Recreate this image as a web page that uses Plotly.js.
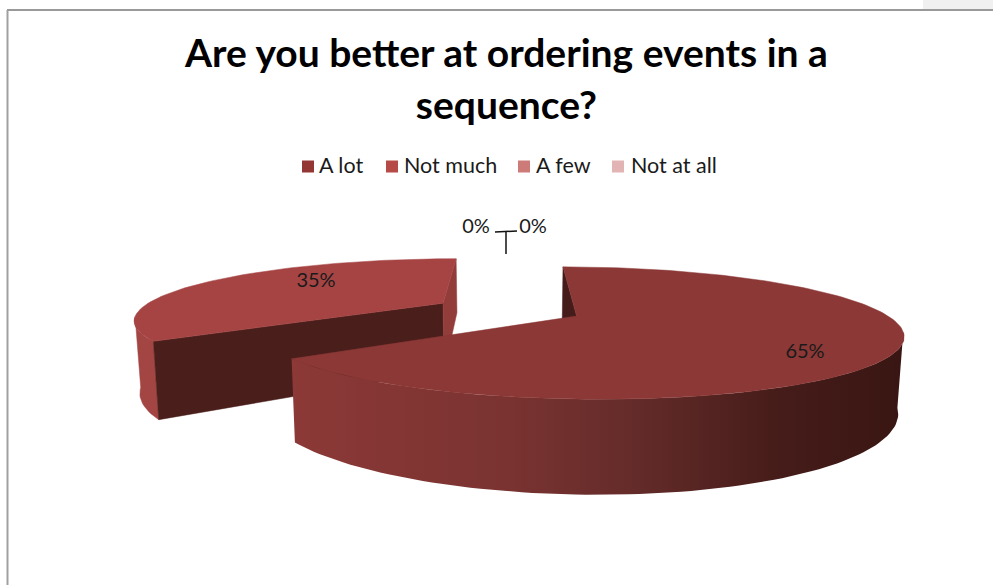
<!DOCTYPE html>
<html><head><meta charset="utf-8">
<script src="https://cdn.plot.ly/plotly-3.0.1.min.js"></script>
<style>html,body{margin:0;padding:0;background:#fff;overflow:hidden}#c{width:993px;height:585px}</style>
</head><body><div id="c"></div>
<script>
// data
const categories = ['A lot', 'Not much', 'A few', 'Not at all'];
const shares = [65, 35, 0, 0];
const swatchColors = ['#943634', '#B64A47', '#CC7B78', '#E2B5B4'];
const chartTitle = 'Are you better at ordering events in a<br>sequence?';

// 3D pie camera (styling constants, pixels)
const cam = {x0: 510, y0: 309.5, a: 303, k: 58.5, p: 0.25, h: 69, e: 0.015, explode: 0.24};
function project(X, V, Z) {
  const d = 1 - cam.p * V;
  return [cam.x0 + X * (1 - cam.e * Z) / d, cam.y0 + (cam.k * V + cam.h * Z) / d];
}
const total = shares.reduce((s, v) => s + v, 0);
const rad = d => d * Math.PI / 180;
function slice(startDeg, endDeg, nudge) {
  const mid = rad((startDeg + endDeg) / 2);
  const cx = cam.explode * Math.sin(mid), cv = -cam.explode * Math.cos(mid);
  const pt = (deg, r, z) => project(cam.a * (cx + r * Math.sin(rad(deg))) + nudge, cv - r * Math.cos(rad(deg)), z);
  const arc = (a, b, z) => {
    const out = [], n = Math.max(8, Math.ceil(Math.abs(b - a) / 1.5));
    for (let i = 0; i <= n; i++) out.push(pt(a + (b - a) * i / n, 1, z));
    return out;
  };
  return {pt, arc};
}
function poly(points, color, extra) {
  return Object.assign({
    type: 'scatter', mode: 'lines', x: points.map(p => p[0]).concat(points[0][0]),
    y: points.map(p => p[1]).concat(points[0][1]), fill: 'toself', fillcolor: color,
    line: {width: 0.5, color: color}, showlegend: false, hoverinfo: 'skip'
  }, extra || {});
}

const bigEnd = shares[0] / total * 360;
const big = slice(0, bigEnd, 0), small = slice(bigEnd, 360, -4);
const traces = [];
// small slice: walls then top
traces.push(poly(small.arc(bigEnd, 257, 1).concat(small.arc(257, bigEnd, 0)), '#A34543'));
traces.push(poly([small.pt(bigEnd, 1, 0), small.pt(bigEnd, 0, 0), small.pt(bigEnd, 0, 1), small.pt(bigEnd, 1, 1)], '#4A1E1B'));
traces.push(poly([small.pt(360, 1, 0), small.pt(360, 1, 1), small.pt(360, 0, 1), small.pt(360, 0, 0)], '#933D3A'));
traces.push(poly([small.pt(0, 0, 0)].concat(small.arc(bigEnd, 360, 0)), '#A64444'));
// big slice: inner wall, outer wall, top
traces.push(poly([big.pt(0, 1, 0), big.pt(0, 0, 0), big.pt(0, 0, 1), big.pt(0, 1, 1)], '#451C19'));
traces.push(poly(big.arc(bigEnd, 104, 0).concat(big.arc(104, bigEnd, 1)), '#6a2c2a', {
  line: {width: 0},
  fillgradient: {type: 'horizontal', colorscale: [[0, '#8C3937'], [0.35, '#7A3331'], [0.55, '#652C2A'], [0.8, '#451C19'], [1, '#391613']]}
}));
traces.push(poly([big.pt(0, 0, 0)].concat(big.arc(0, bigEnd, 0)), '#8B3836'));

// zero-slice leader lines
traces.push({type: 'scatter', mode: 'lines', x: [495, 517, null, 506, 506], y: [232, 231, null, 232, 254],
  line: {color: '#111', width: 1.5}, showlegend: false, hoverinfo: 'skip'});
// data labels
const labelX = [805, 316, 476, 533], labelY = [353, 282, 228, 228];
traces.push({type: 'scatter', mode: 'text', x: labelX, y: labelY, text: shares.map(v => v + '%'),
  textposition: 'middle center', textfont: {family: 'Lato, sans-serif', size: 20, color: '#1a1a1a'},
  showlegend: false, hoverinfo: 'skip'});
// legend entries, drawn as marker + text so spacing follows the reference
const legendX = [308, 392, 524, 618], legendTextX = [319, 404, 536, 631];
categories.forEach((name, i) => {
  traces.push({type: 'scatter', mode: 'markers', x: [legendX[i]], y: [166.5], name,
    marker: {symbol: 'square', size: 12, color: swatchColors[i]}, showlegend: false, hoverinfo: 'skip'});
  traces.push({type: 'scatter', mode: 'text', x: [legendTextX[i]], y: [168], name,
    text: [name], textposition: 'middle right', textfont: {family: 'Lato, sans-serif', size: 21.5, color: '#1a1a1a'},
    showlegend: false, hoverinfo: 'skip'});
});

const layout = {
  width: 993, height: 585, margin: {l: 0, r: 0, t: 0, b: 0},
  paper_bgcolor: '#fff', plot_bgcolor: '#fff',
  xaxis: {range: [0, 993], visible: false, fixedrange: true},
  yaxis: {range: [585, 0], visible: false, fixedrange: true},
  title: {text: '<span style="font-size:39px">' + chartTitle.replace('<br>', '</span><br><span style="font-size:39px">') + '</span>',
    x: 0.51, xanchor: 'center', y: 0.885, yanchor: 'top',
    font: {family: 'Lato, sans-serif', size: 40, color: '#000', weight: 700}},
  showlegend: false,
  shapes: [
    {type: 'rect', xref: 'x', yref: 'y', x0: 923, x1: 993, y0: 0, y1: 9, fillcolor: '#F0F0F0', line: {width: 0}, layer: 'below'},
    {type: 'line', xref: 'x', yref: 'y', x0: 7, x1: 993, y0: 10, y1: 10, line: {color: '#999', width: 2}, layer: 'below'},
    {type: 'line', xref: 'x', yref: 'y', x0: 7.5, x1: 7.5, y0: 10, y1: 585, line: {color: '#A0A0A0', width: 2}, layer: 'below'}
  ]
};
Plotly.newPlot('c', traces, layout, {displayModeBar: false, staticPlot: true});
</script></body></html>
